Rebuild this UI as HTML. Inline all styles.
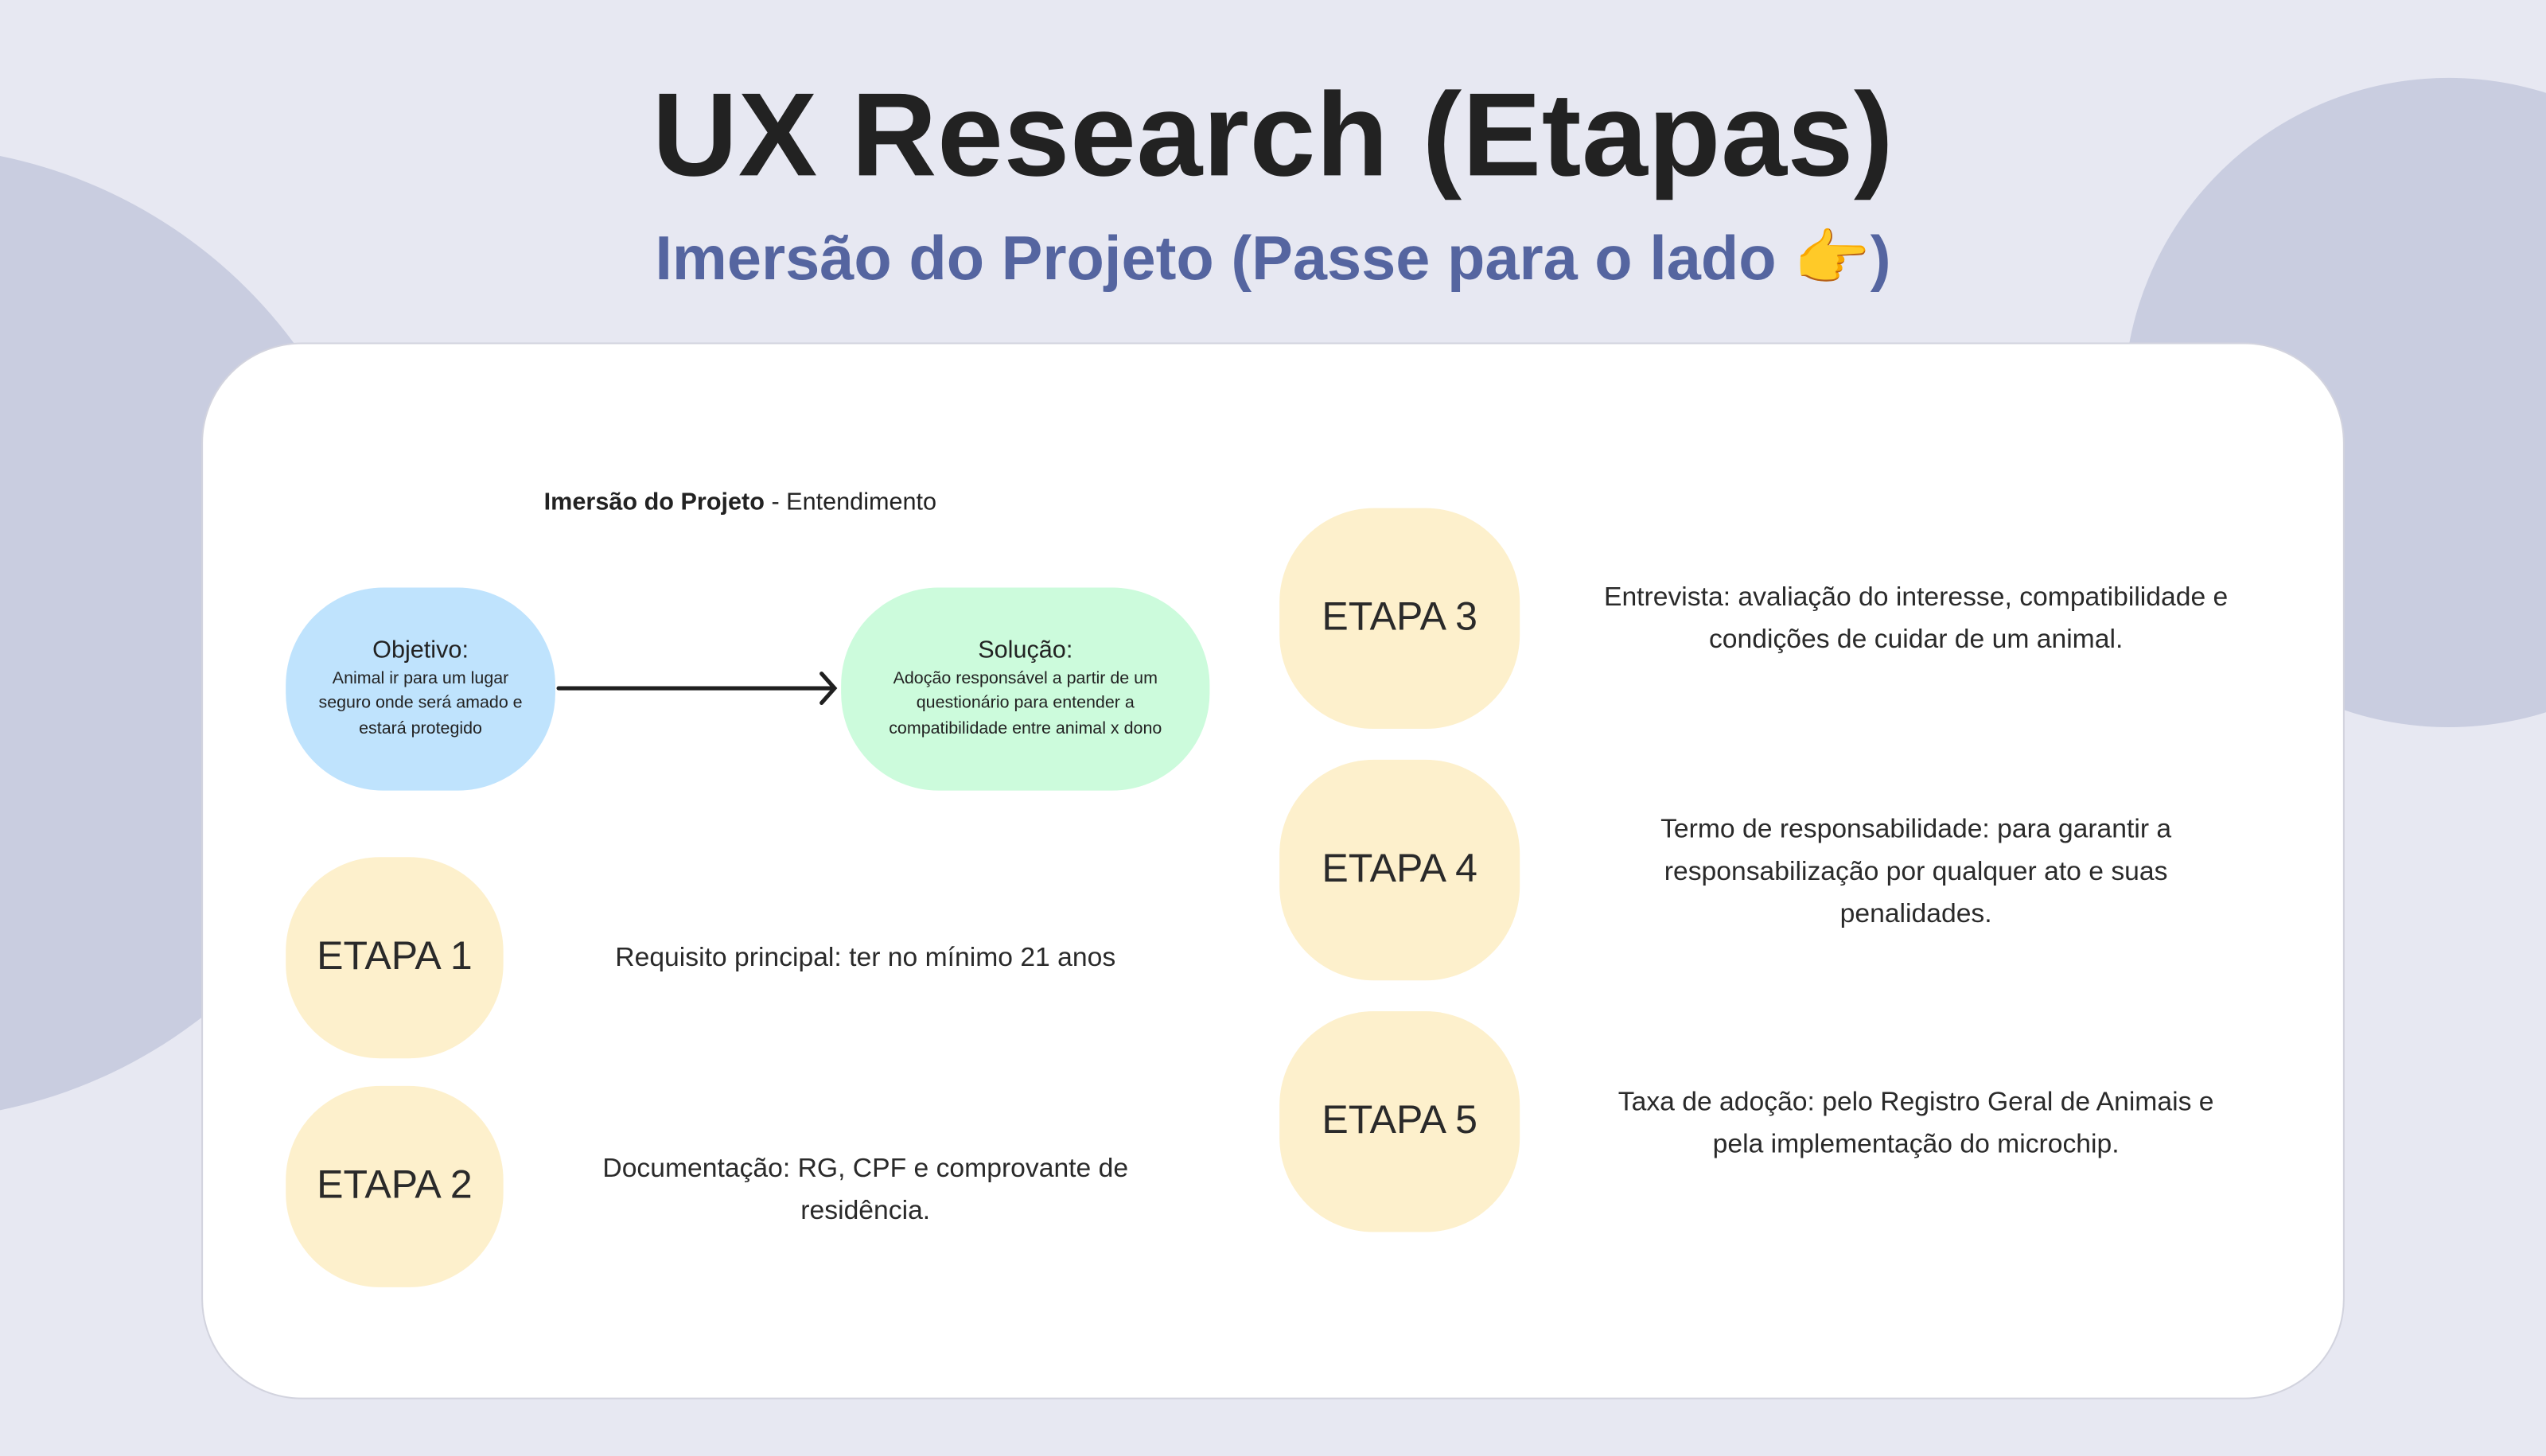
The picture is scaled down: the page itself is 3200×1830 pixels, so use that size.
<!DOCTYPE html>
<html><head><meta charset="utf-8"><style>
html,body{margin:0;padding:0;width:3200px;height:1830px;overflow:hidden;background:#e7e8f2;}
#w{position:absolute;left:0;top:0;width:1568px;height:897px;transform:scale(2.0408,2.0402);transform-origin:0 0;font-family:"Liberation Sans",sans-serif;color:#222;}
.a{position:absolute;}
.c{border-radius:50%;background:#c9cde0;}
.pill{display:flex;flex-direction:column;align-items:center;justify-content:center;text-align:center;}
.et{background:#fdf0cc;border-radius:58px;font-size:24.5px;display:flex;align-items:center;justify-content:center;color:#2a2a2a;}
.t{font-size:16.5px;line-height:26px;text-align:center;color:#2a2a2a;}
</style></head><body><div id="w">
<div class="a c" style="left:-360px;top:90px;width:600px;height:600px"></div>
<div class="a c" style="left:1308px;top:48px;width:400px;height:400px"></div>
<div class="a" style="left:0;width:1568px;top:42px;text-align:center;font-size:73px;font-weight:bold;letter-spacing:0.3px;color:#222">UX Research (Etapas)</div>
<div class="a" style="left:0;width:1568px;top:138px;text-align:center;font-size:38px;font-weight:bold;color:#5565a0">Imersão do Projeto (Passe para o lado <span style="color:#f2b62c">👉</span>)</div>
<div class="a" style="left:124px;top:211px;width:1318px;height:649px;background:#fff;border:1px solid #d2d3de;border-radius:62px"></div>
<div class="a" style="left:335px;top:301px;font-size:15px;color:#222"><b>Imersão do Projeto</b> - Entendimento</div>
<div class="a pill" style="left:176px;top:362px;width:166px;height:125px;border-radius:60px;background:#bfe3fd">
<div style="font-size:15px;margin-bottom:2px">Objetivo:</div>
<div style="font-size:10.5px;line-height:15.5px;padding:0 12px">Animal ir para um lugar seguro onde será amado e estará protegido</div></div>
<div class="a pill" style="left:518px;top:362px;width:227px;height:125px;border-radius:60px;background:#ccfbdc">
<div style="font-size:15px;margin-bottom:2px">Solução:</div>
<div style="font-size:10.5px;line-height:15.5px;padding:0 20px">Adoção responsável a partir de um questionário para entender a compatibilidade entre animal x dono</div></div>
<svg class="a" style="left:340px;top:410px" width="180" height="30"><path d="M4 14 H173 M166 5 L174 14 L166 23" stroke="#1f1f1f" stroke-width="2.5" fill="none" stroke-linecap="round"/></svg>
<div class="a et" style="left:176px;top:528px;width:134px;height:124px">ETAPA 1</div>
<div class="a et" style="left:176px;top:669px;width:134px;height:124px">ETAPA 2</div>
<div class="a et" style="left:788px;top:313px;width:148px;height:136px">ETAPA 3</div>
<div class="a et" style="left:788px;top:468px;width:148px;height:136px">ETAPA 4</div>
<div class="a et" style="left:788px;top:623px;width:148px;height:136px">ETAPA 5</div>
<div class="a t" style="left:363px;width:340px;top:577px">Requisito principal: ter no mínimo 21 anos</div>
<div class="a t" style="left:363px;width:340px;top:707px">Documentação: RG, CPF e comprovante de residência.</div>
<div class="a t" style="left:960px;width:440px;top:355px">Entrevista: avaliação do interesse, compatibilidade e condições de cuidar de um animal.</div>
<div class="a t" style="left:990px;width:380px;top:498px">Termo de responsabilidade: para garantir a responsabilização por qualquer ato e suas penalidades.</div>
<div class="a t" style="left:982px;width:396px;top:666px">Taxa de adoção: pelo Registro Geral de Animais e pela implementação do microchip.</div>
</div></body></html>
